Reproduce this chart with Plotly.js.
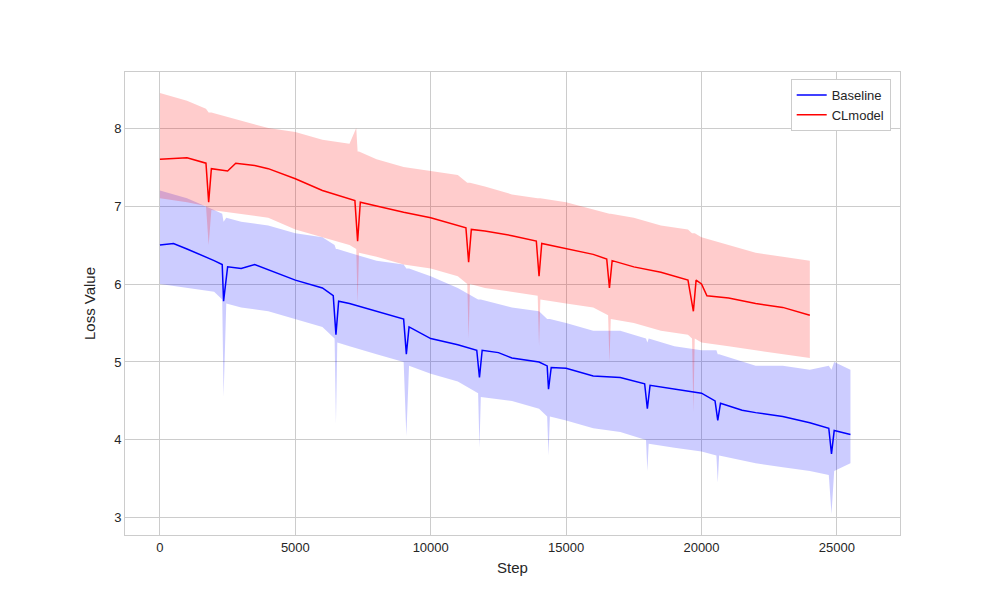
<!DOCTYPE html>
<html>
<head>
<script src="https://cdn.plot.ly/plotly-3.0.1.min.js"></script>
<style>body{margin:0}</style>
</head>
<body>
<div id="chart" style="width:1000px;height:600px"></div>
<script>
// smoothed curves
const baseSteps = [0,500,1000,1500,2000,2300,2350,2500,3000,3500,4000,5000,6000,6400,6500,6600,7000,8000,9000,9100,9200,10000,11000,11700,11800,11900,12500,13000,14000,14300,14350,14450,15000,16000,17000,17900,18000,18100,19000,20000,20500,20600,20700,21500,22000,23000,24000,24700,24800,24900,25500];
const baseSmooth = [6.5,6.52,6.45,6.38,6.3,6.25,5.78,6.22,6.2,6.25,6.18,6.05,5.95,5.85,5.35,5.78,5.75,5.65,5.55,5.1,5.45,5.3,5.22,5.15,4.8,5.15,5.12,5.05,5.0,4.95,4.65,4.93,4.92,4.82,4.8,4.72,4.4,4.7,4.65,4.6,4.5,4.25,4.47,4.38,4.35,4.3,4.22,4.15,3.82,4.12,4.07];

const clSteps = [0,1000,1700,1800,1900,2500,2800,3500,4000,5000,6000,7000,7200,7300,7400,8000,9000,10000,11000,11300,11400,11500,12000,13000,13900,14000,14100,15000,16000,16500,16600,16700,17500,18500,19500,19700,19800,20000,20200,21000,22000,23000,24000];
const clSmooth = [7.6,7.62,7.55,7.05,7.48,7.45,7.55,7.52,7.48,7.35,7.2,7.1,7.07,6.55,7.05,7.0,6.92,6.85,6.75,6.72,6.28,6.7,6.68,6.62,6.55,6.1,6.52,6.45,6.38,6.32,5.95,6.3,6.22,6.15,6.05,5.65,6.05,6.0,5.85,5.82,5.75,5.7,5.6];

// raw-signal envelope (upper / lower edges of the noisy band)
const baseBandSteps = [0,1000,2000,2300,2350,2450,3000,4000,5000,6000,6450,6500,6550,7000,8000,9000,9100,9200,10000,11000,11750,11800,11850,13000,14000,14300,14350,14400,15000,16000,17000,17950,18000,18050,19000,20000,20550,20600,20650,22000,23000,24000,24700,24800,24900,25500];
const baseUpper = [7.2,7.1,6.95,6.9,6.8,6.85,6.8,6.75,6.65,6.6,6.5,6.45,6.45,6.4,6.3,6.25,6.2,6.2,6.1,5.95,5.8,5.8,5.8,5.7,5.65,5.55,5.55,5.55,5.5,5.4,5.4,5.3,5.25,5.3,5.2,5.15,5.15,5.1,5.1,4.95,4.95,4.9,4.95,4.9,5.0,4.9];
const baseLower = [6.0,5.95,5.9,5.8,4.55,5.75,5.7,5.65,5.55,5.45,5.3,4.2,5.25,5.2,5.1,5.0,4.05,4.95,4.85,4.75,4.6,3.9,4.55,4.5,4.4,4.3,3.8,4.3,4.25,4.15,4.1,4.0,3.6,3.95,3.9,3.85,3.8,3.45,3.8,3.7,3.65,3.6,3.55,3.05,3.6,3.7];

const clBandSteps = [0,1000,1700,1800,1900,3000,4000,5000,6000,7000,7250,7300,7350,8000,9000,10000,11000,11350,11400,11450,12000,13000,13950,14000,14050,15000,16000,16550,16600,16650,17500,18500,19500,19650,19700,19750,20000,21000,22000,23000,24000];
const clUpper = [8.45,8.35,8.25,8.2,8.2,8.1,8.0,7.95,7.85,7.8,8.0,7.7,7.7,7.6,7.5,7.45,7.4,7.3,7.3,7.3,7.25,7.15,7.1,7.1,7.1,7.05,6.95,6.9,6.9,6.9,6.85,6.75,6.7,6.65,6.65,6.65,6.6,6.5,6.4,6.35,6.3];
const clLower = [7.1,7.05,7.0,6.5,6.95,6.9,6.85,6.7,6.6,6.5,6.45,5.75,6.4,6.35,6.25,6.2,6.1,6.0,5.3,6.0,5.95,5.9,5.85,5.2,5.8,5.75,5.7,5.6,5.0,5.55,5.5,5.4,5.35,5.3,4.35,5.3,5.25,5.2,5.15,5.1,5.05];

const xTicks = [0,5000,10000,15000,20000,25000];
const yTicks = [3,4,5,6,7,8];

const traces = [
  {x: baseBandSteps, y: baseLower, mode: "lines", line: {width: 0}, showlegend: false, hoverinfo: "skip"},
  {x: baseBandSteps, y: baseUpper, mode: "lines", line: {width: 0}, fill: "tonexty", fillcolor: "rgba(0,0,255,0.2)", showlegend: false, hoverinfo: "skip"},
  {x: clBandSteps, y: clLower, mode: "lines", line: {width: 0}, showlegend: false, hoverinfo: "skip"},
  {x: clBandSteps, y: clUpper, mode: "lines", line: {width: 0}, fill: "tonexty", fillcolor: "rgba(255,0,0,0.2)", showlegend: false, hoverinfo: "skip"},
  {x: baseSteps, y: baseSmooth, mode: "lines", name: "Baseline", line: {color: "blue", width: 1.5}},
  {x: clSteps, y: clSmooth, mode: "lines", name: "CLmodel", line: {color: "red", width: 1.5}},
];

const axisStyle = {
  showgrid: true, gridcolor: "#cccccc", gridwidth: 1,
  showline: true, linecolor: "#cccccc", mirror: true,
  zeroline: false, ticks: "", tickfont: {size: 13, color: "#262626"},
};

const layout = {
  width: 1000, height: 600,
  margin: {l: 125, r: 100, t: 72, b: 65},
  paper_bgcolor: "white", plot_bgcolor: "white",
  font: {family: "Liberation Sans, Arial, sans-serif", color: "#262626"},
  xaxis: Object.assign({}, axisStyle, {range: [-1290, 27330], tickvals: xTicks, ticktext: xTicks.map(String), title: {text: "Step", font: {size: 15}, standoff: 8}}),
  yaxis: Object.assign({}, axisStyle, {range: [2.78, 8.72], tickvals: yTicks, ticktext: yTicks.map(String), title: {text: "Loss Value", font: {size: 15}, standoff: 14}}),
  legend: {x: 0.988, y: 0.985, xanchor: "right", yanchor: "top", traceorder: "normal", bgcolor: "white", bordercolor: "#cccccc", borderwidth: 1, font: {size: 13}},
};

Plotly.newPlot("chart", traces, layout, {displayModeBar: false});
</script>
</body>
</html>
